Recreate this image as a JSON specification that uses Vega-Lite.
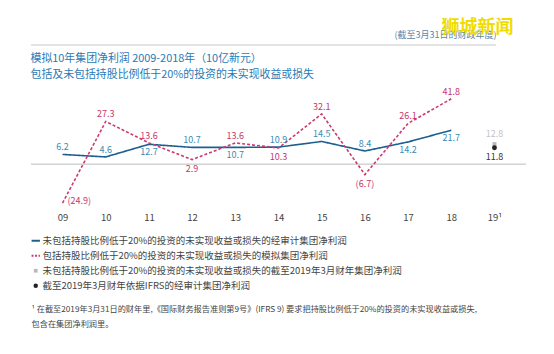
{
  "$schema": "https://vega.github.io/schema/vega-lite/v6.json",
  "padding": {"left": 30, "top": 19, "right": 0, "bottom": 0},
  "background": "white",
  "config": {"font": "Noto Sans CJK SC", "view": {"stroke": null}},
  "title": {"text": "狮城新闻", "anchor": "end", "color": "#f0dc00", "fontSize": 18, "fontWeight": "bold", "offset": -6, "dx": -13},
  "spacing": 7,
  "datasets": {
    "main": [
      {"year": "09", "key": "A", "series": "未包括持股比例低于20%的投资的未实现收益或损失的经审计集团净利润", "value": 6.2},
      {"year": "10", "key": "A", "series": "未包括持股比例低于20%的投资的未实现收益或损失的经审计集团净利润", "value": 4.6},
      {"year": "11", "key": "A", "series": "未包括持股比例低于20%的投资的未实现收益或损失的经审计集团净利润", "value": 12.7},
      {"year": "12", "key": "A", "series": "未包括持股比例低于20%的投资的未实现收益或损失的经审计集团净利润", "value": 10.7},
      {"year": "13", "key": "A", "series": "未包括持股比例低于20%的投资的未实现收益或损失的经审计集团净利润", "value": 10.7},
      {"year": "14", "key": "A", "series": "未包括持股比例低于20%的投资的未实现收益或损失的经审计集团净利润", "value": 10.9},
      {"year": "15", "key": "A", "series": "未包括持股比例低于20%的投资的未实现收益或损失的经审计集团净利润", "value": 14.5},
      {"year": "16", "key": "A", "series": "未包括持股比例低于20%的投资的未实现收益或损失的经审计集团净利润", "value": 8.4},
      {"year": "17", "key": "A", "series": "未包括持股比例低于20%的投资的未实现收益或损失的经审计集团净利润", "value": 14.2},
      {"year": "18", "key": "A", "series": "未包括持股比例低于20%的投资的未实现收益或损失的经审计集团净利润", "value": 21.7},
      {"year": "09", "key": "B", "series": "包括持股比例低于20%的投资的未实现收益或损失的模拟集团净利润", "value": -24.9},
      {"year": "10", "key": "B", "series": "包括持股比例低于20%的投资的未实现收益或损失的模拟集团净利润", "value": 27.3},
      {"year": "11", "key": "B", "series": "包括持股比例低于20%的投资的未实现收益或损失的模拟集团净利润", "value": 13.6},
      {"year": "12", "key": "B", "series": "包括持股比例低于20%的投资的未实现收益或损失的模拟集团净利润", "value": 2.9},
      {"year": "13", "key": "B", "series": "包括持股比例低于20%的投资的未实现收益或损失的模拟集团净利润", "value": 13.6},
      {"year": "14", "key": "B", "series": "包括持股比例低于20%的投资的未实现收益或损失的模拟集团净利润", "value": 10.3},
      {"year": "15", "key": "B", "series": "包括持股比例低于20%的投资的未实现收益或损失的模拟集团净利润", "value": 32.1},
      {"year": "16", "key": "B", "series": "包括持股比例低于20%的投资的未实现收益或损失的模拟集团净利润", "value": -6.7},
      {"year": "17", "key": "B", "series": "包括持股比例低于20%的投资的未实现收益或损失的模拟集团净利润", "value": 26.1},
      {"year": "18", "key": "B", "series": "包括持股比例低于20%的投资的未实现收益或损失的模拟集团净利润", "value": 41.8},
      {"year": "19", "key": "C", "series": "未包括持股比例低于20%的投资的未实现收益或损失的截至2019年3月财年集团净利润", "value": 12.8},
      {"year": "19", "key": "D", "series": "截至2019年3月财年依据IFRS的经审计集团净利润", "value": 11.8}
    ]
  },
  "vconcat": [
    {
      "width": 465,
      "height": 1,
      "title": {"text": "(截至3月31日的财政年度)", "anchor": "end", "fontSize": 9, "fontWeight": "normal", "color": "#5b84a8", "offset": 4},
      "data": {"values": [{"v": 0}]},
      "mark": {"type": "rule", "color": "#c8c8c8", "strokeWidth": 1},
      "encoding": {"y": {"field": "v", "type": "quantitative", "axis": null, "scale": {"domain": [0, 1]}}}
    },
    {
      "width": 495,
      "height": 125,
      "title": {
        "text": ["模拟10年集团净利润 2009-2018年（10亿新元）", "包括及未包括持股比例低于20%的投资的未实现收益或损失"],
        "anchor": "start", "fontSize": 10.9, "fontWeight": "normal", "color": "#2a7ab5", "lineHeight": 16, "offset": 6
      },
      "data": {"name": "main"},
      "layer": [
        {
          "data": {"values": [{"z": 0}]},
          "mark": {"type": "rule", "color": "#bdbdbd", "strokeWidth": 1},
          "encoding": {"y": {"field": "z", "type": "quantitative", "scale": {"domain": [-26.5, 50]}, "axis": null}}
        },
        {
          "transform": [{"filter": {"field": "key", "oneOf": ["A", "B"]}}],
          "mark": {"type": "line", "strokeWidth": 1.6},
          "encoding": {
            "x": {"field": "year", "type": "ordinal", "scale": {"type": "point", "padding": 0.73, "domain": ["09", "10", "11", "12", "13", "14", "15", "16", "17", "18", "19"]},
              "axis": {"labelExpr": "datum.value == '19' ? '19¹' : datum.value", "labelAngle": 0, "labelFontSize": 9.5, "labelColor": "#444", "domain": false, "ticks": false, "labelPadding": 1,
                "title": ["¹  在截至2019年3月31日的财年里,《国际财务报告准则第9号》(IFRS 9) 要求把持股比例低于20%的投资的未实现收益或损失,", "    包含在集团净利润里。"],
                "titleAnchor": "start", "titleAlign": "left", "titleFontSize": 8.2, "titleFontWeight": "normal", "titleColor": "#444", "titleLineHeight": 15, "titlePadding": 84}},
            "y": {"field": "value", "type": "quantitative", "scale": {"domain": [-26.5, 50]}, "axis": null},
            "color": {"field": "series", "type": "nominal", "sort": null,
              "scale": {"domain": [
                "未包括持股比例低于20%的投资的未实现收益或损失的经审计集团净利润",
                "包括持股比例低于20%的投资的未实现收益或损失的模拟集团净利润",
                "未包括持股比例低于20%的投资的未实现收益或损失的截至2019年3月财年集团净利润",
                "截至2019年3月财年依据IFRS的经审计集团净利润"],
                "range": ["#1c5f8e", "#cc3a72", "#b8b8c4", "#222222"]},
              "legend": {
                "orient": "none", "legendX": 0, "legendY": 192, "title": null, "direction": "vertical", "padding": 0,
                "labelFontSize": 9.5, "labelColor": "#444", "labelFont": "Noto Sans CJK SC", "labelLimit": 0, "rowPadding": 4, "labelOffset": 2,
                "symbolStrokeWidth": 1.8, "symbolSize": 80,
                "encode": {"symbols": {"update": {
                  "shape": {"signal": "datum.index < 2 ? 'stroke' : (datum.index == 2 ? 'square' : 'circle')"},
                  "strokeDash": {"signal": "datum.index == 1 ? [2, 1.5] : [1, 0]"},
                  "size": {"signal": "datum.index < 2 ? 70 : (datum.index == 2 ? 14 : 20)"},
                  "fill": {"scale": "color", "field": "value"},
                  "stroke": {"scale": "color", "field": "value"},
                  "strokeWidth": {"signal": "datum.index < 2 ? 1.8 : 0"},
                  "opacity": {"value": 1}
                }}}
              }},
            "strokeDash": {"field": "key", "type": "nominal", "scale": {"domain": ["A", "B"], "range": [[1, 0], [3, 2]]}, "legend": null}
          }
        },
        {
          "transform": [{"filter": {"field": "key", "equal": "C"}}],
          "mark": {"type": "square", "size": 16, "opacity": 1},
          "encoding": {
            "x": {"field": "year", "type": "ordinal"},
            "y": {"field": "value", "type": "quantitative"},
            "color": {"field": "series", "type": "nominal"}
          }
        },
        {
          "transform": [{"filter": {"field": "key", "equal": "D"}}],
          "mark": {"type": "circle", "size": 24, "opacity": 1},
          "encoding": {
            "x": {"field": "year", "type": "ordinal"},
            "y": {"field": "value", "type": "quantitative"},
            "yOffset": {"value": 2},
            "color": {"field": "series", "type": "nominal"}
          }
        },
        {
          "transform": [{"filter": {"and": [{"field": "key", "equal": "A"}, {"field": "year", "oneOf": ["09", "10", "12", "14", "15", "16"]}]}}],
          "mark": {"type": "text", "fontSize": 9, "color": "#3b8bb3", "dy": -7, "baseline": "middle"},
          "encoding": {"x": {"field": "year", "type": "ordinal"}, "y": {"field": "value", "type": "quantitative"}, "text": {"field": "value", "type": "quantitative", "format": ".1f"}}
        },
        {
          "transform": [{"filter": {"and": [{"field": "key", "equal": "A"}, {"field": "year", "oneOf": ["11", "13", "17", "18"]}]}}],
          "mark": {"type": "text", "fontSize": 9, "color": "#3b8bb3", "dy": 8, "baseline": "middle"},
          "encoding": {"x": {"field": "year", "type": "ordinal"}, "y": {"field": "value", "type": "quantitative"}, "text": {"field": "value", "type": "quantitative", "format": ".1f"}}
        },
        {
          "transform": [{"filter": {"and": [{"field": "key", "equal": "B"}, {"field": "year", "oneOf": ["10", "11", "13", "15", "17", "18"]}]}}],
          "mark": {"type": "text", "fontSize": 9, "color": "#c8366e", "dy": -7, "baseline": "middle"},
          "encoding": {"x": {"field": "year", "type": "ordinal"}, "y": {"field": "value", "type": "quantitative"}, "text": {"field": "value", "type": "quantitative", "format": "(.1f"}}
        },
        {
          "transform": [{"filter": {"and": [{"field": "key", "equal": "B"}, {"field": "year", "oneOf": ["12", "14", "16"]}]}}],
          "mark": {"type": "text", "fontSize": 9, "color": "#c8366e", "dy": 9, "baseline": "middle"},
          "encoding": {"x": {"field": "year", "type": "ordinal"}, "y": {"field": "value", "type": "quantitative"}, "text": {"field": "value", "type": "quantitative", "format": "(.1f"}}
        },
        {
          "transform": [{"filter": {"and": [{"field": "key", "equal": "B"}, {"field": "year", "equal": "09"}]}}],
          "mark": {"type": "text", "fontSize": 9, "color": "#c8366e", "dx": 5, "dy": -2, "align": "left", "baseline": "middle"},
          "encoding": {"x": {"field": "year", "type": "ordinal"}, "y": {"field": "value", "type": "quantitative"}, "text": {"field": "value", "type": "quantitative", "format": "(.1f"}}
        },
        {
          "transform": [{"filter": {"field": "key", "equal": "C"}}],
          "mark": {"type": "text", "fontSize": 9, "color": "#c4c4c8", "dy": -10, "baseline": "middle"},
          "encoding": {"x": {"field": "year", "type": "ordinal"}, "y": {"field": "value", "type": "quantitative"}, "text": {"field": "value", "type": "quantitative", "format": ".1f"}}
        },
        {
          "transform": [{"filter": {"field": "key", "equal": "D"}}],
          "mark": {"type": "text", "fontSize": 9, "color": "#333333", "dy": 11, "baseline": "middle"},
          "encoding": {"x": {"field": "year", "type": "ordinal"}, "y": {"field": "value", "type": "quantitative"}, "text": {"field": "value", "type": "quantitative", "format": ".1f"}}
        }
      ]
    }
  ]
}
